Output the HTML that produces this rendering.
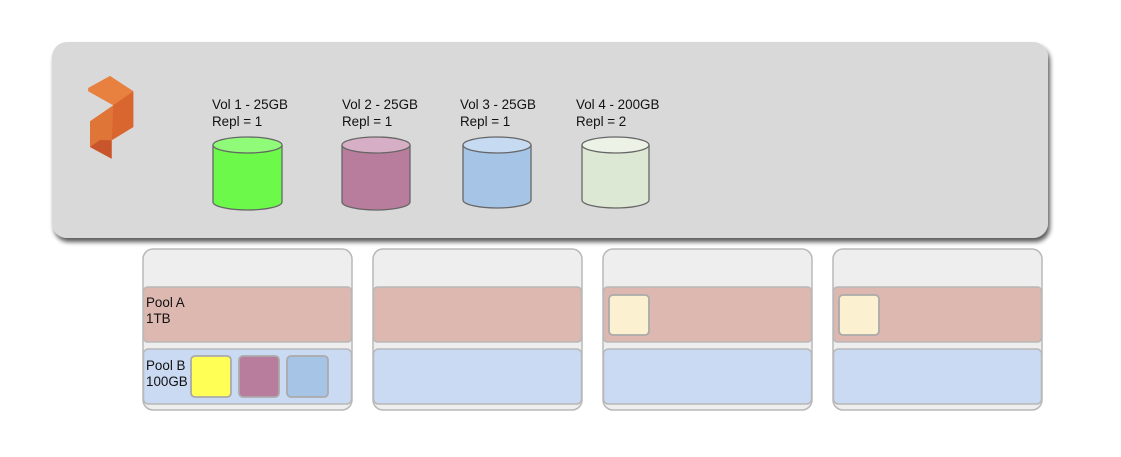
<!DOCTYPE html>
<html>
<head>
<meta charset="utf-8">
<style>
  html,body{margin:0;padding:0;background:#ffffff;}
  svg{display:block;}
  text{font-family:"Liberation Sans",Arial,sans-serif;font-size:13.4px;fill:#111;}
</style>
</head>
<body>
<svg width="1121" height="457" viewBox="0 0 1121 457" xmlns="http://www.w3.org/2000/svg">
  <defs>
    <filter id="sh" x="-5%" y="-10%" width="110%" height="125%">
      <feGaussianBlur in="SourceAlpha" stdDeviation="2.5"/>
      <feOffset dx="2" dy="4" result="b"/>
      <feComponentTransfer><feFuncA type="linear" slope="0.65"/></feComponentTransfer>
      <feMerge><feMergeNode/><feMergeNode in="SourceGraphic"/></feMerge>
    </filter>
  </defs>

  <!-- top panel -->
  <rect x="52" y="42" width="996" height="196" rx="15" ry="15" fill="#d9d9d9" filter="url(#sh)"/>

  <!-- logo -->
  <polygon points="88.3,88 110,76 133.3,91.3 133.3,127 111.7,140.3 111.7,158.7 90,147 90,121.3 113.3,105.3 88.3,91.3" fill="#e07538"/>
  <polygon points="88.3,88 110,76 133.3,91.3 113.3,105.3 88.3,91.3" fill="#e8813f"/>
  <polygon points="133.3,91.3 133.3,127 111.7,140.3 113.3,105.3" fill="#d9662f"/>
  <polygon points="90,147 111.7,158.7 111.7,140.3 100,140" fill="#c9552c"/>

  <!-- volume labels -->
  <text x="212" y="109">Vol 1 - 25GB</text>
  <text x="212" y="126">Repl = 1</text>
  <text x="342" y="109">Vol 2 - 25GB</text>
  <text x="342" y="126">Repl = 1</text>
  <text x="460" y="109">Vol 3 - 25GB</text>
  <text x="460" y="126">Repl = 1</text>
  <text x="576" y="109">Vol 4 - 200GB</text>
  <text x="576" y="126">Repl = 2</text>

  <!-- cylinders -->
  <g stroke="#666" stroke-width="1.3">
    <path d="M213,145 L213,202 A34.5,8 0 0 0 282,202 L282,145" fill="#6cf94a"/>
    <ellipse cx="247.5" cy="145" rx="34.5" ry="8" fill="#8ffb78"/>

    <path d="M342,145 L342,202 A34,8 0 0 0 410,202 L410,145" fill="#b87c9c"/>
    <ellipse cx="376" cy="145" rx="34" ry="8" fill="#d6afc6"/>

    <path d="M463,145 L463,200 A34,8 0 0 0 531,200 L531,145" fill="#a6c5e6"/>
    <ellipse cx="497" cy="145" rx="34" ry="8" fill="#c6daf1"/>

    <path d="M582,145 L582,200 A33.5,8 0 0 0 649,200 L649,145" fill="#dde8d4"/>
    <ellipse cx="615.5" cy="145" rx="33.5" ry="8" fill="#ecf3e6"/>
  </g>

  <!-- node boxes -->
  <g stroke="#b8b8b8" stroke-width="1.5">
    <rect x="143" y="249" width="209" height="161" rx="10" fill="#eeeeee"/>
    <rect x="373" y="249" width="209" height="161" rx="10" fill="#eeeeee"/>
    <rect x="603" y="249" width="209" height="161" rx="10" fill="#eeeeee"/>
    <rect x="833" y="249" width="209" height="161" rx="10" fill="#eeeeee"/>

    <rect x="143.5" y="287" width="208" height="55" rx="4" fill="#ddb8b0"/>
    <rect x="373.5" y="287" width="208" height="55" rx="4" fill="#ddb8b0"/>
    <rect x="603.5" y="287" width="208" height="55" rx="4" fill="#ddb8b0"/>
    <rect x="833.5" y="287" width="208" height="55" rx="4" fill="#ddb8b0"/>

    <rect x="143.5" y="349" width="208" height="55" rx="5" fill="#cbdaf3"/>
    <rect x="373.5" y="349" width="208" height="55" rx="5" fill="#cbdaf3"/>
    <rect x="603.5" y="349" width="208" height="55" rx="5" fill="#cbdaf3"/>
    <rect x="833.5" y="349" width="208" height="55" rx="5" fill="#cbdaf3"/>
  </g>

  <!-- small squares -->
  <g stroke="#aaaaaa" stroke-width="1.8">
    <rect x="191" y="356" width="40" height="41" rx="4" fill="#ffff55"/>
    <rect x="239" y="356" width="40" height="41" rx="4" fill="#b87c9c"/>
    <rect x="287" y="356" width="41" height="41" rx="4" fill="#a6c5e6"/>
    <rect x="609" y="295" width="40" height="40" rx="4" fill="#fbf0cf"/>
    <rect x="839" y="295" width="40" height="40" rx="4" fill="#fbf0cf"/>
  </g>

  <!-- pool labels -->
  <text x="146" y="307">Pool A</text>
  <text x="146" y="323">1TB</text>
  <text x="146" y="370">Pool B</text>
  <text x="146" y="386">100GB</text>
</svg>
</body>
</html>
